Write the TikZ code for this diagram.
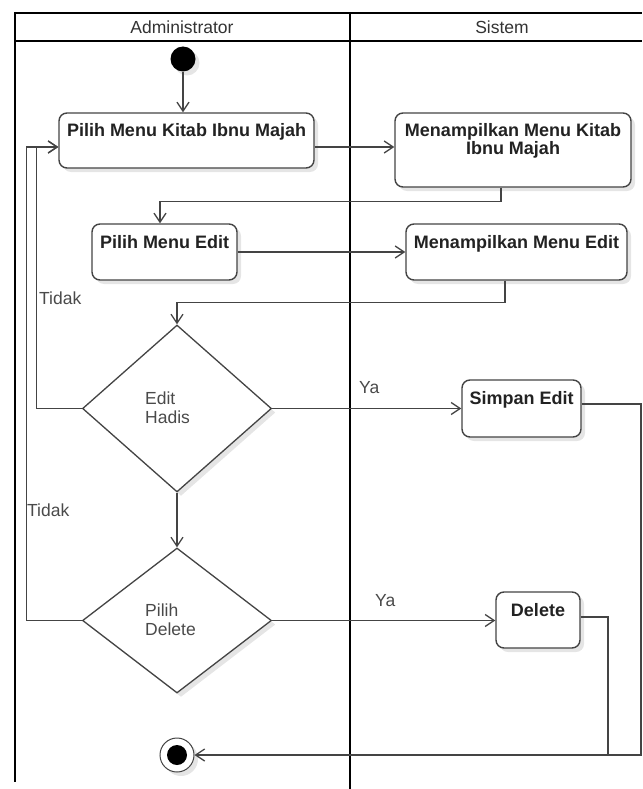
\documentclass[tikz,border=0pt]{standalone}
\usepackage{fontspec}
\setmainfont{Liberation Sans}
\usetikzlibrary{arrows.meta,shapes.geometric,shadows,calc}
\definecolor{lnc}{HTML}{444444}
\definecolor{txc}{HTML}{222222}
\definecolor{lbc}{HTML}{4A4A4A}
\begin{document}
\begin{tikzpicture}[x=1pt,y=-1pt,
  frame/.style={line width=2.2pt, black},
  softshadow/.style={drop shadow={shadow xshift=4pt, shadow yshift=-4pt, fill=black, opacity=0.10}},
  actbox/.style={draw=lnc, line width=1.4pt, rounded corners=8pt, fill=white, inner sep=0pt, softshadow},
  dec/.style={diamond, draw=lnc, line width=1.3pt, fill=white, inner sep=0pt, softshadow},
  boxtxt/.style={inner sep=0pt, text=txc, font=\fontsize{18}{18}\selectfont\bfseries},
  lbl/.style={inner sep=0pt, text=lbc, font=\fontsize{17.5}{19}\selectfont},
  hdr/.style={inner sep=0pt, text=black!80, font=\fontsize{17.5}{19}\selectfont},
  conn/.style={draw=lnc, line width=1.3pt, -{Straight Barb[length=9pt,width=12pt,line width=1.3pt]}},
  connp/.style={draw=lnc, line width=1.3pt}
]
\useasboundingbox (0,0) rectangle (642,789);
\fill[white] (0,0) rectangle (642,789);

% swimlane frame
\draw[frame] (15,13) -- (642,13);
\draw[frame] (15,41) -- (642,41);
\draw[frame] (15,12) -- (15,782);
\draw[frame] (350,12) -- (350,789);
\node[hdr, anchor=base] (hA) at (182,33.5) {Administrator};
\node[hdr, anchor=base] (hS) at (502,33.5) {Sistem};

% start
\node[circle, fill=black, minimum size=25pt, inner sep=0pt, softshadow] (start) at (183,59) {};

% activities
\node[actbox, minimum width=255pt, minimum height=55pt] (b1) at (186.5,140.5) {};
\node[boxtxt, anchor=base] (t1) at (186.5,136.5) {Pilih Menu Kitab Ibnu Majah};
\node[actbox, minimum width=236pt, minimum height=74pt] (b2) at (513,150) {};
\node[boxtxt, align=center] (t2) at (513,141) {Menampilkan Menu Kitab\\Ibnu Majah};
\node[actbox, minimum width=145pt, minimum height=56pt] (b3) at (164.5,252) {};
\node[boxtxt, anchor=base] (t3) at (164.5,248.5) {Pilih Menu Edit};
\node[actbox, minimum width=221pt, minimum height=56pt] (b4) at (516.5,252) {};
\node[boxtxt, anchor=base] (t4) at (516.5,248.5) {Menampilkan Menu Edit};
\node[actbox, minimum width=119pt, minimum height=57pt] (se) at (521.5,408.5) {};
\node[boxtxt, anchor=base] (t5) at (521.5,404.5) {Simpan Edit};
\node[actbox, minimum width=84pt, minimum height=56pt] (del) at (538,620) {};
\node[boxtxt, anchor=base] (t6) at (538,616.5) {Delete};

% decisions
\node[dec, minimum width=189pt, minimum height=167pt] (d1) at (177,408.5) {};
\node[lbl, align=left, anchor=north west] (t7) at (145,391.5) {Edit\\Hadis};
\node[dec, minimum width=189pt, minimum height=145pt] (d2) at (177,620.5) {};
\node[lbl, align=left, anchor=north west] (t8) at (145,603.5) {Pilih\\Delete};

% end
\node[circle, draw=lnc, line width=1pt, fill=white, minimum size=34pt, inner sep=0pt, softshadow] (end) at (177,755) {};
\node[circle, fill=black, minimum size=20pt, inner sep=0pt] (endin) at (end) {};

% connectors
\draw[conn] (start.south) -- (start.south |- b1.north);
\coordinate (a1) at ($(b1.east)+(0,6.5)$);
\draw[conn] (a1) -- (a1 -| b2.west);
\draw[conn] ($(b2.south)+(-12,0)$) -- ++(0,14) -| ($(b3.north)+(-4.5,0)$);
\draw[conn] (b3.east) -- (b4.west);
\draw[conn] ($(b4.south)+(-11.5,0)$) -- ++(0,22) -| (d1.north);
\coordinate (a2) at ($(b1.west)+(0,6.5)$);
\draw[conn] (d1.west) -- ++(-45.5,0) |- (a2);
\draw[conn] (d2.west) -- ++(-55.5,0) |- (a2);
\draw[conn] (d1.east) -- (d1.east -| se.west);
\draw[conn] (d1.south) -- (d2.north);
\draw[conn] (d2.east) -- (d2.east -| del.west);
\coordinate (rc) at (641,755);
\coordinate (jn) at (608,755);
\draw[conn] ($(se.east)+(0,-4.5)$) -| (rc) -- (end.east);
\draw[connp] ($(del.east)+(0,-3)$) -| (jn);

% guard labels
\node[lbl, anchor=base west] (g1) at (39,304) {Tidak};
\node[lbl, anchor=base west] (g2) at (27,516) {Tidak};
\node[lbl, anchor=base west] (g3) at (359,393) {Ya};
\node[lbl, anchor=base west] (g4) at (375,606) {Ya};
\end{tikzpicture}
\end{document}
